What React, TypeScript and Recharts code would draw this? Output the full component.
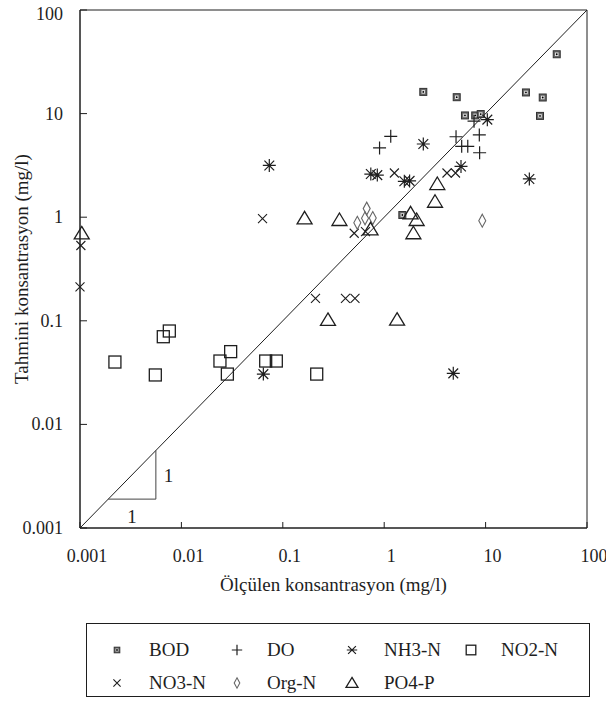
import { ScatterChart, Scatter, XAxis, YAxis, ReferenceLine, ReferenceArea, Label } from 'recharts'

const FONT = '"Liberation Serif", "Times New Roman", serif'
const INK = '#1e1e1e'

const axisTicks = [0.001, 0.01, 0.1, 1, 10, 100]

// measured (x) vs predicted (y), mg/l
const bodMeasured = [2.43, 5.19, 6.26, 7.9, 8.95, 25.0, 36.6, 34.4, 50.3, 1.51]
const bodPredicted = [16.2, 14.4, 9.6, 9.6, 9.9, 16.0, 14.3, 9.5, 37.4, 1.05]

const doMeasured = [1.16, 0.9, 5.11, 5.81, 6.67, 8.67, 8.73, 7.69]
const doPredicted = [6.04, 4.66, 5.98, 4.83, 4.83, 6.22, 4.19, 8.45]

const nh3Measured = [0.0736, 0.0643, 2.43, 0.738, 0.855, 1.58, 1.78, 5.72, 10.4, 27.0, 4.8]
const nh3Predicted = [3.16, 0.0306, 5.09, 2.61, 2.55, 2.22, 2.24, 3.09, 8.74, 2.34, 0.0311]

const no2Measured = [0.00221, 0.00553, 0.00663, 0.0076, 0.024, 0.0306, 0.0284, 0.0678, 0.0863, 0.216]
const no2Predicted = [0.04, 0.03, 0.0702, 0.0797, 0.0409, 0.0504, 0.0306, 0.0409, 0.0409, 0.0306]

const no3Measured = [0.00102, 0.001, 0.0631, 0.506, 0.654, 0.21, 0.415, 0.515, 1.26, 4.16, 5.05]
const no3Predicted = [0.533, 0.213, 0.97, 0.7, 0.725, 0.165, 0.165, 0.165, 2.67, 2.67, 2.67]

const orgMeasured = [0.672, 0.543, 0.647, 0.771, 9.27]
const orgPredicted = [1.21, 0.883, 0.975, 0.98, 0.925]

const po4Measured = [0.00104, 0.164, 0.362, 0.733, 3.34, 3.17, 1.82, 2.09, 1.94, 0.279, 1.34]
const po4Predicted = [0.697, 0.975, 0.94, 0.764, 2.09, 1.41, 1.09, 0.94, 0.7, 0.102, 0.1025]

// slope triangle drawn in the lower left corner
const slopeFrom = 0.0019
const slopeTo = 0.0056

const zip = (xs: number[], ys: number[]) => xs.map((x, i) => ({ x, y: ys[i] }))

const series = [
  { name: 'BOD', kind: 'bod', data: zip(bodMeasured, bodPredicted) },
  { name: 'DO', kind: 'plus', data: zip(doMeasured, doPredicted) },
  { name: 'NH3-N', kind: 'star', data: zip(nh3Measured, nh3Predicted) },
  { name: 'NO2-N', kind: 'square', data: zip(no2Measured, no2Predicted) },
  { name: 'NO3-N', kind: 'cross', data: zip(no3Measured, no3Predicted) },
  { name: 'Org-N', kind: 'diamond', data: zip(orgMeasured, orgPredicted) },
  { name: 'PO4-P', kind: 'triangle', data: zip(po4Measured, po4Predicted) },
]

function Mark({ kind, cx, cy, s = 1, legend = false }: any) {
  switch (kind) {
    case 'bod': {
      const h = 3.5 * s
      return (
        <g>
          <rect x={cx - h} y={cy - h} width={2 * h} height={2 * h} fill="#666" stroke="#333" strokeWidth={1} />
          <rect x={cx - h * 0.5} y={cy - h * 0.5} width={h} height={h} fill="#e4e4e4" />
          <circle cx={cx} cy={cy} r={0.9} fill="#000" />
        </g>
      )
    }
    case 'plus': {
      const h = 6.5 * s
      return <path d={`M${cx - h},${cy}H${cx + h}M${cx},${cy - h}V${cy + h}`} stroke={INK} strokeWidth={1.2} fill="none" />
    }
    case 'star': {
      const h = 6.5 * s
      const d = h * 0.75
      const vert = legend ? '' : `M${cx},${cy - h}V${cy + h}`
      return (
        <path
          d={`M${cx - h},${cy}H${cx + h}${vert}M${cx - d},${cy - d}L${cx + d},${cy + d}M${cx - d},${cy + d}L${cx + d},${cy - d}`}
          stroke={INK}
          strokeWidth={1.2}
          fill="none"
        />
      )
    }
    case 'square': {
      const h = 6 * s
      return <rect x={cx - h} y={cy - h} width={2 * h} height={2 * h} fill="none" stroke={INK} strokeWidth={1.3} />
    }
    case 'cross': {
      const h = 4.5 * s
      return <path d={`M${cx - h},${cy - h}L${cx + h},${cy + h}M${cx - h},${cy + h}L${cx + h},${cy - h}`} stroke={INK} strokeWidth={1.1} fill="none" />
    }
    case 'diamond': {
      const w = 3.5 * s
      const h = 6.5 * s
      return <path d={`M${cx},${cy - h}L${cx + w},${cy}L${cx},${cy + h}L${cx - w},${cy}Z`} stroke="#666" strokeWidth={1.1} fill="none" />
    }
    case 'triangle': {
      const w = 7.5 * s
      return <path d={`M${cx},${cy - 7 * s}L${cx + w},${cy + 5.5 * s}L${cx - w},${cy + 5.5 * s}Z`} stroke={INK} strokeWidth={1.3} fill="none" />
    }
    default:
      return null
  }
}

const XTick = ({ x, y, payload }: any) => (
  <text x={x + 7} y={y} dy={12} textAnchor="middle" fontSize={18} fontFamily={FONT} fill={INK}>
    {String(payload.value)}
  </text>
)

const YTick = ({ x, y, payload }: any) => (
  <text x={x} y={y} dy={payload.value === 100 ? 10 : 6} textAnchor="end" fontSize={18} fontFamily={FONT} fill={INK}>
    {String(payload.value)}
  </text>
)

const legendIconX = [117, 237, 352, 471]
const legendTextX = [149, 267, 384, 501]
const legendRowY = [651, 684]
const BOX_LEFT = 86
const BOX_TOP = 623

function LegendBox() {
  return (
    <div
      style={{
        position: 'absolute',
        left: BOX_LEFT,
        top: BOX_TOP,
        width: 504,
        height: 74,
        border: `1px solid ${INK}`,
        boxSizing: 'border-box',
        fontFamily: FONT,
        fontSize: 19,
        color: INK,
      }}
    >
      {series.map((s, i) => {
        const col = i < 4 ? i : i - 4
        const row = i < 4 ? 0 : 1
        const cy = legendRowY[row] - BOX_TOP - 1
        return (
          <div key={s.name}>
            <svg
              width={20}
              height={20}
              style={{ position: 'absolute', left: legendIconX[col] - BOX_LEFT - 11, top: cy - 11 }}
            >
              <Mark kind={s.kind} cx={10} cy={10} s={0.8} legend />
            </svg>
            <span style={{ position: 'absolute', left: legendTextX[col] - BOX_LEFT - 1, top: cy - 12, lineHeight: '22px', whiteSpace: 'nowrap' }}>
              {s.name}
            </span>
          </div>
        )
      })}
    </div>
  )
}

export default function App() {
  return (
    <div style={{ position: 'absolute', left: 0, top: 0, width: 606, height: 702, background: '#fff' }}>
      <ScatterChart width={606} height={610} margin={{ top: 10, right: 19, bottom: 52, left: 0 }}>
        <XAxis
          type="number"
          dataKey="x"
          scale="log"
          domain={[0.001, 100]}
          ticks={axisTicks}
          interval={0}
          height={30}
          tickSize={-6}
          tickMargin={28}
          tick={<XTick />}
          axisLine={{ stroke: INK }}
          tickLine={{ stroke: INK }}
        >
          <Label
            value="Ölçülen konsantrasyon (mg/l)"
            position="bottom"
            offset={20}
            style={{ fontSize: 19, fontFamily: FONT, fill: INK }}
          />
        </XAxis>
        <YAxis
          type="number"
          dataKey="y"
          scale="log"
          domain={[0.001, 100]}
          ticks={axisTicks}
          interval={0}
          width={80}
          tickSize={-7}
          tickMargin={24}
          tick={<YTick />}
          axisLine={{ stroke: INK }}
          tickLine={{ stroke: INK }}
        >
          <Label
            value="Tahmini konsantrasyon (mg/l)"
            angle={-90}
            position="insideLeft"
            offset={21}
            style={{ fontSize: 19, fontFamily: FONT, fill: INK, textAnchor: 'middle' }}
          />
        </YAxis>
        <ReferenceArea x1={0.001} x2={100} y1={0.001} y2={100} fill="none" stroke={INK} strokeWidth={1} ifOverflow="visible" />
        <ReferenceLine
          segment={[
            { x: 0.001, y: 0.001 },
            { x: 100, y: 100 },
          ]}
          stroke={INK}
          strokeWidth={1}
        />
        <ReferenceLine
          segment={[
            { x: slopeFrom, y: slopeFrom },
            { x: slopeTo, y: slopeFrom },
          ]}
          stroke="#444"
          strokeWidth={1}
          label={{ value: '1', position: 'bottom', offset: 10, fontSize: 19, fontFamily: FONT, fill: INK }}
        />
        <ReferenceLine
          segment={[
            { x: slopeTo, y: slopeFrom },
            { x: slopeTo, y: slopeTo },
          ]}
          stroke="#444"
          strokeWidth={1}
          label={{ value: '1', position: 'right', offset: 8, fontSize: 19, fontFamily: FONT, fill: INK }}
        />
        {series.map((s) => (
          <Scatter
            key={s.name}
            name={s.name}
            data={s.data}
            isAnimationActive={false}
            shape={(p: any) => <Mark kind={s.kind} cx={p.cx} cy={p.cy} />}
          />
        ))}
      </ScatterChart>
      <LegendBox />
    </div>
  )
}
